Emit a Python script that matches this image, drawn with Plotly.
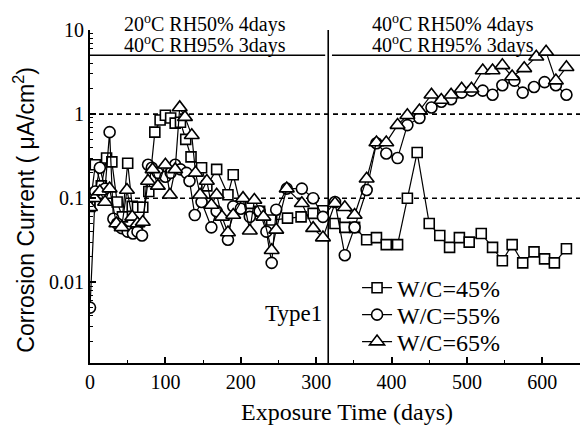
import math
import plotly.graph_objects as go

# Exposure days and corrosion current (uA/cm2) for each W/C ratio
days_45 = [0, 7, 15, 22, 29, 36, 43, 50, 56, 63,
           70, 78, 86, 93, 100, 107, 113, 120, 127, 134,
           148, 155, 168, 183, 190, 200, 212, 225, 241, 262,
           280, 296, 309, 325, 338, 351, 367, 380, 393, 408,
           421, 434, 450, 464, 477, 490, 503, 519, 534, 547,
           560, 574, 589, 603, 616, 632]
icorr_45 = [0.08, 0.25, 0.14, 0.3, 0.27, 0.09, 0.06, 0.26, 0.08, 0.078,
            0.078, 0.12, 0.61, 0.85, 0.97, 0.9, 0.78, 0.8, 0.5, 0.31,
            0.23, 0.14, 0.22, 0.11, 0.19, 0.08, 0.066, 0.07, 0.055, 0.058,
            0.06, 0.066, 0.071, 0.05, 0.045, 0.045, 0.032, 0.034, 0.028, 0.028,
            0.10, 0.35, 0.05, 0.036, 0.026, 0.034, 0.030, 0.038, 0.026, 0.018,
            0.028, 0.017, 0.023, 0.019, 0.017, 0.025]

days_55 = [0, 7, 13, 20, 26, 31, 36, 42, 50, 57,
           63, 69, 77, 82, 90, 100, 107, 113, 120, 128,
           132, 139, 148, 161, 168, 183, 190, 200, 212, 225,
           234, 241, 247, 261, 281, 296, 309, 325, 338, 351,
           367, 380, 393, 408, 421, 437, 453, 466, 479, 493,
           506, 521, 534, 547, 563, 574, 589, 603, 618, 632]
icorr_55 = [0.005, 0.12, 0.23, 0.13, 0.61, 0.057, 0.05, 0.044, 0.04, 0.038,
            0.04, 0.036, 0.25, 0.23, 0.2, 0.18, 0.2, 0.25, 0.22, 0.2,
            0.16, 0.063, 0.09, 0.045, 0.07, 0.032, 0.08, 0.075, 0.06, 0.07,
            0.04, 0.017, 0.073, 0.13, 0.13, 0.1, 0.06, 0.09, 0.021, 0.045,
            0.125, 0.45, 0.34, 0.30, 0.74, 0.9, 1.2, 1.4, 1.5, 1.8,
            1.9, 1.9, 1.7, 2.2, 2.5, 1.8, 2.1, 2.4, 2.2, 1.7]

days_65 = [0, 6, 13, 20, 26, 35, 42, 49, 56, 63,
           70, 77, 83, 90, 100, 106, 113, 119, 126, 135,
           140, 146, 155, 161, 168, 175, 183, 190, 203, 212,
           218, 230, 241, 247, 261, 281, 296, 309, 325, 338,
           351, 367, 380, 393, 408, 421, 437, 453, 466, 479,
           493, 506, 521, 534, 547, 560, 576, 592, 605, 618,
           632]
icorr_65 = [0.078, 0.1, 0.12, 0.09, 0.13, 0.05, 0.045, 0.125, 0.06, 0.05,
            0.052, 0.16, 0.22, 0.14, 0.25, 0.11, 0.22, 1.2, 0.92, 0.56,
            0.2, 0.11, 0.16, 0.083, 0.11, 0.06, 0.039, 0.063, 0.1, 0.041,
            0.095, 0.06, 0.024, 0.042, 0.13, 0.087, 0.044, 0.034, 0.087, 0.078,
            0.063, 0.17, 0.46, 0.46, 0.74, 0.97, 1.1, 1.7, 1.47, 1.7,
            2.0, 2.0, 3.3, 3.3, 3.8, 2.8, 3.5, 4.8, 5.5, 2.5,
            3.6]

series_names = ["W/C=45%", "W/C=55%", "W/C=65%"]
y_tick_vals = [0.01, 0.1, 1, 10]
y_tick_text = ["0.01", "0.1", "1", "10"]
x_tick_vals = [0, 100, 200, 300, 400, 500, 600]

# exposure regime change and guide levels
switch_day = 316
regime_level = 5
ref_levels = [1, 0.1]
specimen_label_level = 0.0043

SERIF = "Liberation Serif"
SANS = "Liberation Sans"

fig = go.Figure()
legend_ids = ["legend", "legend2", "legend3"]
for (x, y, sym, size), name, lg in zip([
    (days_45, icorr_45, "square", 10),
    (days_55, icorr_55, "circle", 11),
    (days_65, icorr_65, "triangle-up", 13),
], series_names, legend_ids):
    fig.add_trace(go.Scatter(
        x=x, y=y, name=name, mode="lines+markers", legend=lg,
        line=dict(color="black", width=1.2),
        marker=dict(symbol=sym, size=size, color="white",
                    line=dict(color="black", width=1.6)),
    ))

# dashed reference levels
for lv in ref_levels:
    fig.add_shape(type="line", xref="x", yref="y", x0=0, x1=650, y0=lv, y1=lv,
                  line=dict(color="black", width=1.6, dash="5px,4px"), layer="below")

# regime bars and separator
fig.add_shape(type="line", xref="x", yref="y", x0=0, x1=312, y0=regime_level, y1=regime_level,
              line=dict(color="black", width=1.6), layer="below")
fig.add_shape(type="line", xref="x", yref="y", x0=321, x1=650, y0=regime_level, y1=regime_level,
              line=dict(color="black", width=1.6), layer="below")
fig.add_shape(type="line", xref="x", yref="paper", x0=switch_day, x1=switch_day, y0=0, y1=1,
              line=dict(color="black", width=1.6), layer="below")

ann_font = dict(family=SERIF, size=20, color="black")
for xc, l1, l2 in [
    (153, "20<sup>o</sup>C RH50% 4days", "40<sup>o</sup>C RH95% 3days"),
    (481, "40<sup>o</sup>C RH50% 4days", "40<sup>o</sup>C RH95% 3days"),
]:
    fig.add_annotation(x=xc, xref="x", y=1.019, yref="paper", text=l1,
                       showarrow=False, font=ann_font, yanchor="middle")
    fig.add_annotation(x=xc, xref="x", y=0.955, yref="paper", text=l2,
                       showarrow=False, font=ann_font, yanchor="middle")

# log axis: annotation y is given in decades
fig.add_annotation(x=311, xref="x", y=math.log10(specimen_label_level), yref="y",
                   text="Type1", showarrow=False, xanchor="right", yanchor="middle",
                   font=dict(family=SERIF, size=23, color="black"))

fig.add_annotation(x=0.524, xref="paper", y=-0.147, yref="paper", yanchor="middle",
                   text="Exposure Time (days)", showarrow=False,
                   font=dict(family=SERIF, size=24, color="black"))
fig.add_annotation(x=-0.135, xref="paper", y=0.46, yref="paper",
                   xanchor="center", yanchor="middle",
                   text="Corrosion Current ( μA/cm<sup>2</sup>)", textangle=-90,
                   showarrow=False, font=dict(family=SANS, size=23, color="black"))

minor_y = [m * 10 ** e for e in range(-3, 1) for m in range(2, 10)]

fig.update_xaxes(
    range=[0, 650], showline=True, linecolor="black", linewidth=2,
    ticks="inside", ticklen=6, tickwidth=1.5, tickcolor="black",
    tickvals=x_tick_vals, showgrid=False, zeroline=False,
    tickfont=dict(family=SERIF, size=20, color="black"),
    minor=dict(ticks="inside", ticklen=3, tickwidth=1.2, tickcolor="black", dtick=50, showgrid=False),
)
fig.update_yaxes(
    type="log", range=[-2.96, 1], showline=True, linecolor="black", linewidth=2,
    ticks="inside", ticklen=6, tickwidth=1.5, tickcolor="black",
    tickvals=y_tick_vals, ticktext=y_tick_text, showgrid=False, zeroline=False,
    tickfont=dict(family=SERIF, size=20, color="black"),
    minor=dict(ticks="inside", ticklen=3, tickwidth=1.2, tickcolor="black",
               tickvals=minor_y, showgrid=False),
)

legend_style = dict(x=0.545, xanchor="left", yanchor="middle",
                    bgcolor="rgba(0,0,0,0)",
                    font=dict(family=SERIF, size=24, color="black"))
fig.update_layout(
    width=580, height=426,
    margin=dict(l=90, r=0, t=30, b=63),
    paper_bgcolor="white", plot_bgcolor="white",
    font=dict(family=SERIF, color="black"),
    showlegend=True,
    legend=dict(y=0.225, **legend_style),
    legend2=dict(y=0.144, **legend_style),
    legend3=dict(y=0.063, **legend_style),
)

fig.write_html("out.html")
